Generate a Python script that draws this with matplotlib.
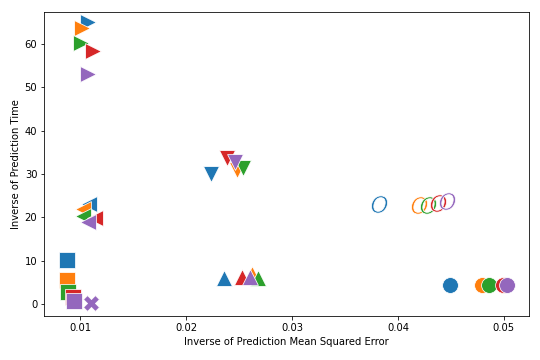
import matplotlib.pyplot as plt

# colours used for the five series inside each marker group
colors = ['#1f77b4', '#ff7f0e', '#2ca02c', '#d62728', '#9467bd']

# each group: marker, x values (inverse MSE), y values (inverse time)
groups = {
    '>': ([0.01075, 0.0102, 0.0101, 0.0112, 0.01075],
          [65.1, 63.7, 60.3, 58.4, 53.1]),
    '<': ([0.0108, 0.0103, 0.0103, 0.0114, 0.01075],
          [23.1, 22.0, 20.4, 19.9, 18.8]),
    's': ([0.00877, 0.00877, 0.0088, 0.0093, 0.0094],
          [10.2, 5.5, 2.7, 1.5, 0.7]),
    'X': ([0.0110, 0.0110, 0.0110, 0.0110, 0.0110],
          [0.2, 0.2, 0.2, 0.2, 0.2]),
    'v': ([0.02236, 0.0248, 0.0254, 0.0239, 0.0246],
          [30.0, 30.8, 31.4, 33.6, 32.8]),
    '$O$': ([0.0382, 0.0420, 0.0428, 0.0438, 0.0446],
            [23.1, 22.9, 22.9, 23.3, 23.8]),
    '^': ([0.0236, 0.0262, 0.0268, 0.0253, 0.0260],
          [6.0, 7.0, 6.0, 6.3, 6.2]),
    'o': ([0.0449, 0.0479, 0.0486, 0.0499, 0.0503],
          [4.4, 4.4, 4.4, 4.4, 4.4]),
}

fig, ax = plt.subplots(figsize=(7.5, 5), dpi=72)

for marker, (xs, ys) in groups.items():
    size = 300 if marker == '$O$' else 250
    for x, y, c in zip(xs, ys, colors):
        ax.scatter(x, y, marker=marker, s=size, color=c,
                   edgecolors='white', linewidths=0.75)

ax.set_xlim(0.0066, 0.0524)
ax.set_ylim(-2.8, 67.4)
ax.set_xticks([0.01, 0.02, 0.03, 0.04, 0.05])
ax.set_yticks([0, 10, 20, 30, 40, 50, 60])
ax.set_xlabel('Inverse of Prediction Mean Squared Error')
ax.set_ylabel('Inverse of Prediction Time')

plt.subplots_adjust(left=0.082, right=0.98, top=0.967, bottom=0.122)
plt.savefig('out.png', dpi=72)
